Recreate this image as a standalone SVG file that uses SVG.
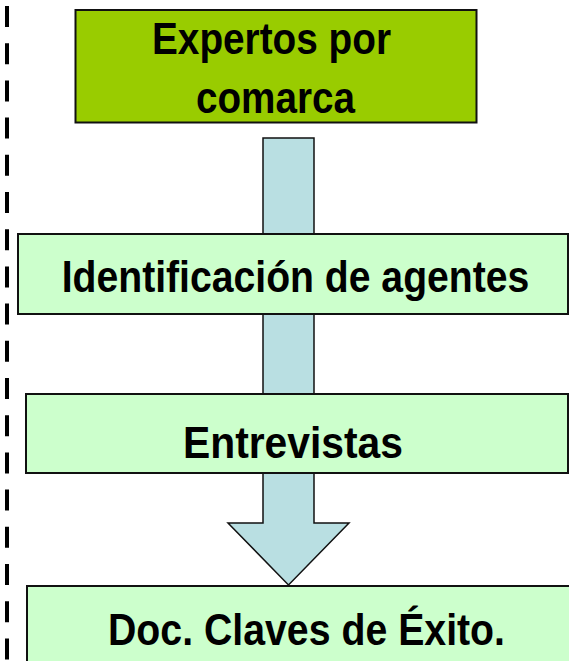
<svg xmlns="http://www.w3.org/2000/svg" width="569" height="661" viewBox="0 0 569 661">
<style>
.box{stroke:#111;stroke-width:2}
.top{fill:#99CC00}
.step{fill:#CCFFCC}
.lbl{font-family:"Liberation Sans",Arial,sans-serif;font-weight:bold;font-size:45px;fill:#000;text-anchor:middle}
</style>
<rect width="569" height="661" fill="#fff"/>
<line x1="7" y1="6" x2="7" y2="661" stroke="#000" stroke-width="4" stroke-dasharray="21 16.2"/>
<g id="connectors">
<polygon points="263,138 314,138 314,523 349,523 288.5,585 228,523 263,523" fill="#B9DFE2" stroke="#111" stroke-width="1.5"/>
</g>
<g id="n1">
<rect class="box top" x="75.5" y="10" width="401" height="112.5"/>
<text class="lbl" x="271.5" y="53.5" textLength="239" lengthAdjust="spacingAndGlyphs">Expertos por</text>
<text class="lbl" x="275.5" y="112.5" textLength="159" lengthAdjust="spacingAndGlyphs">comarca</text>
</g>
<g id="n2">
<rect class="box step" x="18" y="234" width="550" height="80"/>
<text class="lbl" transform="translate(295.5 291.5) scale(0.87 1)" x="0" y="0">Identificación de agentes</text>
</g>
<g id="n3">
<rect class="box step" x="26" y="394" width="542" height="79"/>
<text class="lbl" x="293" y="458" textLength="220" lengthAdjust="spacingAndGlyphs">Entrevistas</text>
</g>
<g id="n4">
<rect class="box step" x="27" y="586" width="560" height="100"/>
<text class="lbl" x="306.5" y="645" textLength="397" lengthAdjust="spacingAndGlyphs">Doc. Claves de Éxito.</text>
</g>
</svg>
